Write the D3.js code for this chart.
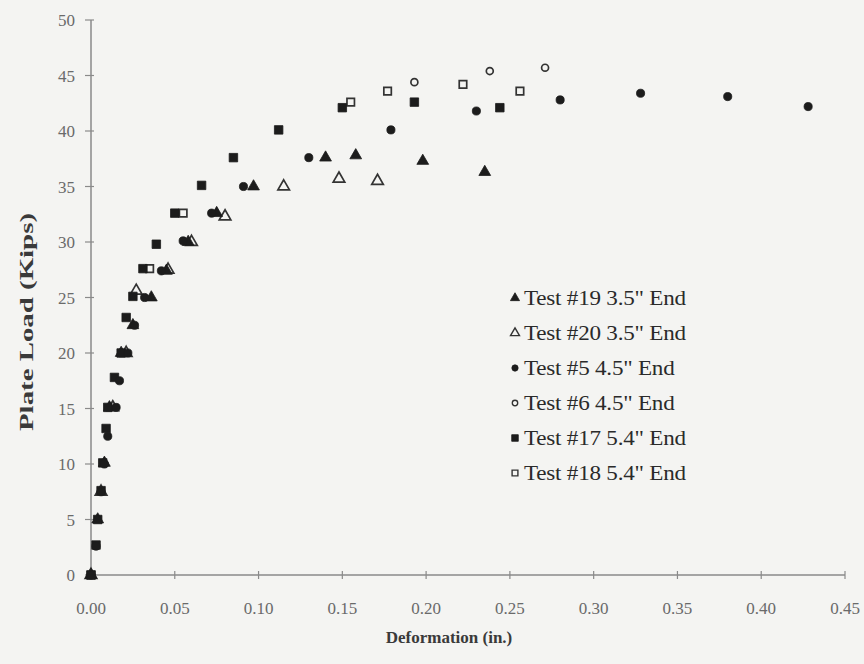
<!DOCTYPE html>
<html>
<head>
<meta charset="utf-8">
<script src="https://cdn.jsdelivr.net/npm/d3@7"></script>
<style>
  body { margin: 0; background: #f4f4f2; }
  svg { display: block; }
  text { font-family: "Liberation Serif", "Times New Roman", serif; }
</style>
</head>
<body>
<svg id="chart" width="864" height="664"></svg>
<script>
// Axis ticks
const xTicks = [0, 0.05, 0.10, 0.15, 0.20, 0.25, 0.30, 0.35, 0.40, 0.45];
const yTicks = [0, 5, 10, 15, 20, 25, 30, 35, 40, 45, 50];

// Series names (legend order)
const seriesNames = [
  'Test #19 3.5" End',
  'Test #20 3.5" End',
  'Test #5 4.5" End',
  'Test #6 4.5" End',
  'Test #17 5.4" End',
  'Test #18 5.4" End'
];

// [deformation (in.), plate load (kips)]
const test19 = [[0, 0], [0.004, 5.0], [0.008, 10.1], [0.011, 15.1], [0.018, 20.0], [0.025, 22.5],
  [0.036, 25.0], [0.045, 27.4], [0.058, 30.0], [0.075, 32.6], [0.097, 35.0], [0.140, 37.6],
  [0.158, 37.8], [0.198, 37.3], [0.235, 36.3]];
const test20 = [[0, 0], [0.006, 7.5], [0.013, 15.1], [0.021, 20.0], [0.027, 25.6], [0.046, 27.5],
  [0.060, 30.0], [0.080, 32.3], [0.115, 35.0], [0.148, 35.7], [0.171, 35.5]];
const test5 = [[0, 0], [0.003, 2.6], [0.006, 7.5], [0.008, 10.0], [0.010, 12.5], [0.015, 15.1],
  [0.017, 17.5], [0.022, 20.0], [0.026, 22.5], [0.032, 25.0], [0.042, 27.4], [0.055, 30.1],
  [0.072, 32.6], [0.091, 35.0], [0.130, 37.6], [0.179, 40.1], [0.230, 41.8], [0.280, 42.8],
  [0.328, 43.4], [0.380, 43.1], [0.428, 42.2]];
const test6 = [[0, 0], [0.193, 44.4], [0.238, 45.4], [0.271, 45.7]];
const test17 = [[0, 0], [0.003, 2.7], [0.004, 5.0], [0.006, 7.6], [0.007, 10.1], [0.009, 13.2],
  [0.010, 15.1], [0.014, 17.8], [0.018, 20.0], [0.021, 23.2], [0.025, 25.1], [0.031, 27.6],
  [0.039, 29.8], [0.050, 32.6], [0.066, 35.1], [0.085, 37.6], [0.112, 40.1], [0.150, 42.1],
  [0.193, 42.6], [0.244, 42.1]];
const test18 = [[0, 0], [0.035, 27.6], [0.055, 32.6], [0.155, 42.6], [0.177, 43.6],
  [0.222, 44.2], [0.256, 43.6]];

const ink = "#1c1c1c";
const axisGrey = "#8a8a8a";
const bg = "#f4f4f2";

const series = [
  { name: seriesNames[0], data: test19, shape: d3.symbolTriangle, size: 60, filled: true },
  { name: seriesNames[1], data: test20, shape: d3.symbolTriangle, size: 58, filled: false },
  { name: seriesNames[2], data: test5,  shape: d3.symbolCircle,   size: 52, filled: true },
  { name: seriesNames[3], data: test6,  shape: d3.symbolCircle,   size: 38, filled: false },
  { name: seriesNames[4], data: test17, shape: d3.symbolSquare,   size: 72, filled: true },
  { name: seriesNames[5], data: test18, shape: d3.symbolSquare,   size: 56, filled: false }
];

const svg = d3.select("#chart");
svg.append("rect").attr("width", 864).attr("height", 664).attr("fill", bg);

const x = d3.scaleLinear().domain([0, 0.45]).range([91, 845]);
const y = d3.scaleLinear().domain([0, 50]).range([575, 20]);

// Axes
const axes = svg.append("g");
axes.append("line").attr("x1", x(0)).attr("x2", x(0.45)).attr("y1", y(0)).attr("y2", y(0))
  .attr("stroke", axisGrey).attr("stroke-width", 1.5);
axes.append("line").attr("x1", x(0)).attr("x2", x(0)).attr("y1", y(0)).attr("y2", y(50))
  .attr("stroke", axisGrey).attr("stroke-width", 1.5);

axes.selectAll(".xt").data(xTicks).join("line")
  .attr("x1", d => x(d)).attr("x2", d => x(d))
  .attr("y1", y(0) - 4).attr("y2", y(0) + 4)
  .attr("stroke", axisGrey).attr("stroke-width", 1.2);
axes.selectAll(".yt").data(yTicks).join("line")
  .attr("x1", x(0) - 6).attr("x2", x(0) + 3)
  .attr("y1", d => y(d)).attr("y2", d => y(d))
  .attr("stroke", axisGrey).attr("stroke-width", 1.2);

axes.selectAll(".xl").data(xTicks).join("text")
  .attr("x", d => x(d)).attr("y", y(0) + 39)
  .attr("text-anchor", "middle").attr("font-size", 17).attr("fill", "#6a6a6a")
  .text(d => d3.format(".2f")(d));
axes.selectAll(".yl").data(yTicks).join("text")
  .attr("x", x(0) - 16).attr("y", d => y(d) + 6)
  .attr("text-anchor", "end").attr("font-size", 17).attr("fill", "#6a6a6a")
  .text(d => d);

svg.append("text").attr("x", 449).attr("y", 643).attr("text-anchor", "middle")
  .attr("font-size", 17).attr("font-weight", "bold").attr("fill", "#3a3a3a")
  .text("Deformation (in.)");
svg.append("text").attr("transform", "translate(33,322) rotate(-90)").attr("text-anchor", "middle")
  .attr("font-size", 19).attr("font-weight", "bold").attr("fill", "#3a3a3a")
  .attr("textLength", 218).attr("lengthAdjust", "spacingAndGlyphs")
  .text("Plate Load (Kips)");

// Markers: hollow series first, filled series on top
const drawOrder = [5, 3, 1, 0, 4, 2];
const marks = svg.append("g");
drawOrder.forEach(i => {
  const s = series[i];
  const sym = d3.symbol().type(s.shape).size(s.size);
  marks.append("g").selectAll("path").data(s.data).join("path")
    .attr("transform", d => `translate(${x(d[0])},${y(d[1])})`)
    .attr("d", sym)
    .attr("fill", s.filled ? ink : bg)
    .attr("stroke", s.filled ? ink : "#333")
    .attr("stroke-width", s.filled ? 0.8 : 1.7);
});

// Legend
const legend = svg.append("g").attr("transform", "translate(515,298)");
series.forEach((s, i) => {
  const row = legend.append("g").attr("transform", `translate(0,${i * 35})`);
  row.append("path")
    .attr("d", d3.symbol().type(s.shape).size(s.size * 0.6))
    .attr("fill", s.filled ? ink : bg)
    .attr("stroke", s.filled ? ink : "#333")
    .attr("stroke-width", s.filled ? 0.8 : 1.4);
  row.append("text").attr("transform", "translate(9,7) scale(1.1,1)")
    .attr("font-size", 21).attr("fill", "#2a2a2a")
    .attr("letter-spacing", -0.2)
    .text(s.name);
});
</script>
</body>
</html>
